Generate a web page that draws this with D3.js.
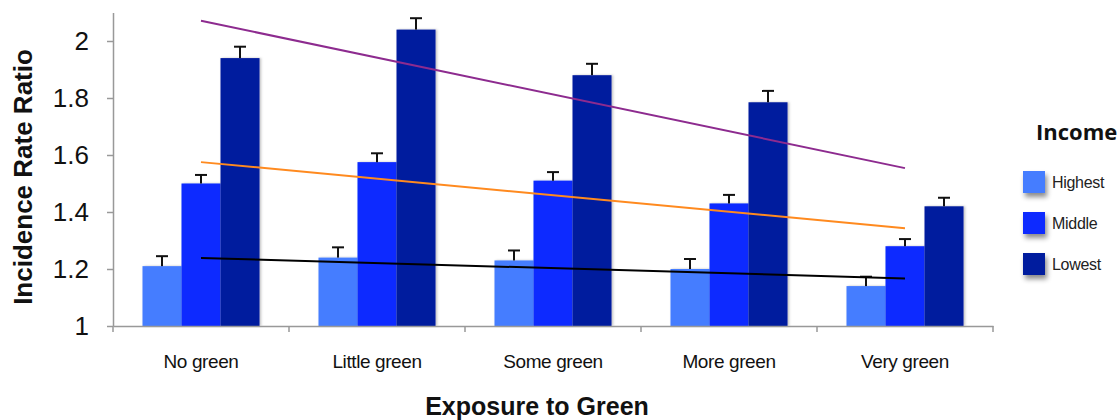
<!DOCTYPE html>
<html>
<head>
<meta charset="utf-8">
<script src="https://cdn.jsdelivr.net/npm/d3@7"></script>
<style>
  body { margin: 0; background: #fff; }
  svg { display: block; font-family: "Liberation Sans", Arial, sans-serif; }
  .axis path, .axis line { stroke: #999; stroke-width: 1.5; }
</style>
</head>
<body>
<svg width="1120" height="420"></svg>
<script>
// data
var categories = ["No green", "Little green", "Some green", "More green", "Very green"];
var incomeGroups = ["Highest", "Middle", "Lowest"];
var highest = [1.21, 1.24, 1.23, 1.20, 1.14];
var middle = [1.50, 1.575, 1.51, 1.43, 1.28];
var lowest = [1.94, 2.04, 1.88, 1.785, 1.42];
var highestErr = [0.035, 0.036, 0.035, 0.035, 0.033];
var middleErr = [0.03, 0.031, 0.03, 0.03, 0.025];
var lowestErr = [0.04, 0.04, 0.04, 0.04, 0.03];
// trend lines: value at first and last category
var trendHighest = [1.239, 1.167];
var trendMiddle = [1.575, 1.343];
var trendLowest = [2.071, 1.554];
var yTicks = [1, 1.2, 1.4, 1.6, 1.8, 2];

var colors = {Highest: "#447dff", Middle: "#0a2cff", Lowest: "#001a9e"};
var trendColors = {Highest: "#000000", Middle: "#ff8a1f", Lowest: "#8d2b8f"};

var svg = d3.select("svg"),
    left = 113, right = 993, bottom = 326;

var x0 = d3.scaleBand().domain(categories).range([left, right]).padding(0);
var x1 = d3.scaleBand().domain(incomeGroups).range([0, x0.bandwidth()])
    .paddingInner(0).paddingOuter(0.756);
var y = d3.scaleLinear().domain([1, 2.1]).range([bottom, 12.5]);

var values = {Highest: highest, Middle: middle, Lowest: lowest};
var errs = {Highest: highestErr, Middle: middleErr, Lowest: lowestErr};
var trends = {Highest: trendHighest, Middle: trendMiddle, Lowest: trendLowest};

var defs = svg.append("defs");
defs.append("filter").attr("id", "barShadow")
    .attr("x", "-20%").attr("y", "-5%").attr("width", "140%").attr("height", "110%")
  .append("feDropShadow")
    .attr("dx", 1.5).attr("dy", 0).attr("stdDeviation", 1.2)
    .attr("flood-color", "#000").attr("flood-opacity", 0.25);
defs.append("filter").attr("id", "legShadow")
    .attr("x", "-30%").attr("y", "-30%").attr("width", "180%").attr("height", "200%")
  .append("feDropShadow")
    .attr("dx", 2).attr("dy", 4).attr("stdDeviation", 2.5)
    .attr("flood-color", "#000").attr("flood-opacity", 0.45);

// bars
var rows = [];
categories.forEach(function(c, i) {
  incomeGroups.forEach(function(g) {
    rows.push({cat: c, grp: g, v: values[g][i], e: errs[g][i]});
  });
});

svg.append("g").selectAll("rect")
  .data(rows)
  .enter().append("rect")
    .attr("x", function(d) { return x0(d.cat) + x1(d.grp); })
    .attr("y", function(d) { return y(d.v); })
    .attr("width", x1.bandwidth())
    .attr("height", function(d) { return y(1) - y(d.v); })
    .attr("fill", function(d) { return colors[d.grp]; })
    .attr("filter", "url(#barShadow)");

// error bars
var eb = svg.append("g").attr("stroke", "#111").attr("stroke-width", 2);
eb.selectAll("line.v").data(rows).enter().append("line")
    .attr("x1", function(d) { return x0(d.cat) + x1(d.grp) + x1.bandwidth() / 2; })
    .attr("x2", function(d) { return x0(d.cat) + x1(d.grp) + x1.bandwidth() / 2; })
    .attr("y1", function(d) { return y(d.v); })
    .attr("y2", function(d) { return y(d.v + d.e); });
eb.selectAll("line.h").data(rows).enter().append("line")
    .attr("x1", function(d) { return x0(d.cat) + x1(d.grp) + x1.bandwidth() / 2 - 6; })
    .attr("x2", function(d) { return x0(d.cat) + x1(d.grp) + x1.bandwidth() / 2 + 6; })
    .attr("y1", function(d) { return y(d.v + d.e); })
    .attr("y2", function(d) { return y(d.v + d.e); });

// trend lines
var first = categories[0], last = categories[categories.length - 1];
incomeGroups.forEach(function(g) {
  svg.append("line")
    .attr("x1", x0(first) + x0.bandwidth() / 2)
    .attr("x2", x0(last) + x0.bandwidth() / 2)
    .attr("y1", y(trends[g][0]))
    .attr("y2", y(trends[g][1]))
    .attr("stroke", trendColors[g])
    .attr("stroke-width", 2);
});

// y axis
var yAxis = svg.append("g")
    .attr("class", "axis")
    .attr("transform", "translate(" + left + ",0)")
    .call(d3.axisLeft(y).tickValues(yTicks).tickSize(6).tickSizeOuter(0).tickPadding(18)
      .tickFormat(function(d) { return String(+d.toFixed(1)); }));
yAxis.selectAll("text").attr("font-size", 26).attr("fill", "#111")
    .attr("font-family", "Liberation Sans, Arial, sans-serif");

// x axis
var xAxis = svg.append("g")
    .attr("class", "axis")
    .attr("transform", "translate(0," + bottom + ")")
    .call(d3.axisBottom(x0).tickSize(0).tickSizeOuter(0).tickPadding(29));
xAxis.selectAll("text").attr("font-size", 19).attr("fill", "#111")
    .attr("letter-spacing", "-0.4px")
    .attr("font-family", "Liberation Sans, Arial, sans-serif");
var bounds = categories.map(function(c) { return x0(c); }).concat([x0.range()[1]]);
xAxis.selectAll("line.bound").data(bounds).enter().append("line")
    .attr("class", "bound")
    .attr("x1", function(d) { return d; }).attr("x2", function(d) { return d; })
    .attr("y1", 0).attr("y2", 6);

// axis titles
svg.append("text")
    .attr("transform", "translate(32,177) rotate(-90)")
    .attr("text-anchor", "middle")
    .attr("font-size", 26).attr("font-weight", "bold").attr("fill", "#111")
    .text("Incidence Rate Ratio");

svg.append("text")
    .attr("x", 537).attr("y", 415)
    .attr("text-anchor", "middle")
    .attr("font-size", 25).attr("font-weight", "bold").attr("fill", "#111")
    .text("Exposure to Green");

// legend
svg.append("text")
    .attr("x", 1036).attr("y", 140)
    .attr("font-family", "Open Sans, sans-serif")
    .attr("font-size", 22).attr("font-weight", "bold").attr("fill", "#111")
    .text("Income");

var leg = svg.append("g").selectAll("g")
  .data(incomeGroups)
  .enter().append("g")
    .attr("transform", function(d, i) { return "translate(1023," + (171 + i * 41) + ")"; });
leg.append("rect")
    .attr("width", 22).attr("height", 22)
    .attr("fill", function(d) { return colors[d]; })
    .attr("filter", "url(#legShadow)");
leg.append("text")
    .attr("x", 29).attr("y", 17)
    .attr("font-size", 16).attr("fill", "#222")
    .attr("letter-spacing", "-0.3px")
    .text(function(d) { return d; });
</script>
</body>
</html>
